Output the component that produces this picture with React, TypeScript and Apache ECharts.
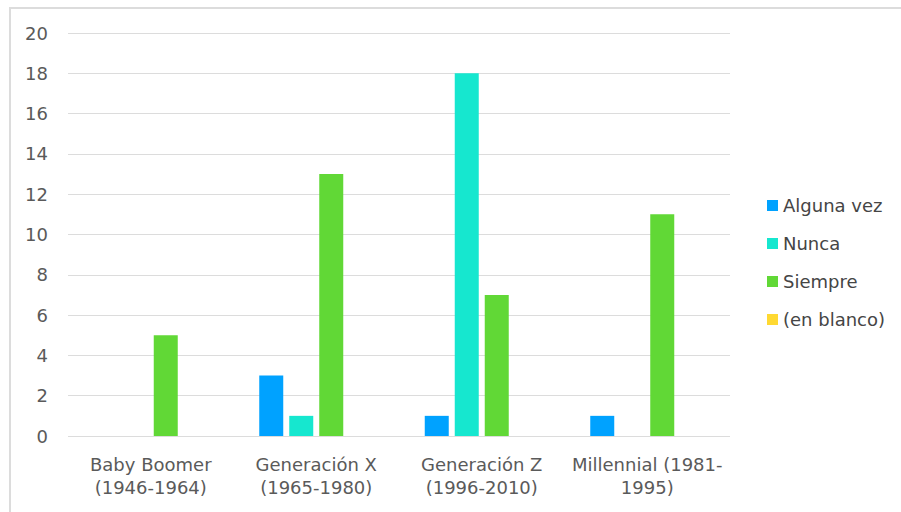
import React, { useEffect, useRef } from "react";
import * as echarts from "echarts";

const categories = [
  "Baby Boomer\n(1946-1964)",
  "Generación X\n(1965-1980)",
  "Generación Z\n(1996-2010)",
  "Millennial (1981-\n1995)",
];
const seriesNames = ["Alguna vez", "Nunca", "Siempre", "(en blanco)"];
const algunaVez = [null, 3, 1, 1];
const nunca = [null, 1, 18, null];
const siempre = [5, 13, 7, 11];
const enBlanco = [null, null, null, null];
const yTicks = { min: 0, max: 20, interval: 2 };
const colors = ["#00A2FF", "#16E7CF", "#61D836", "#FFD932"];

const FONT = "'DejaVu Sans', Verdana, sans-serif";

export default function App() {
  const ref = useRef<HTMLDivElement>(null);
  useEffect(() => {
    if (!ref.current) return;
    const chart = echarts.init(ref.current, undefined, { renderer: "svg" });
    const values = [algunaVez, nunca, siempre, enBlanco];
    chart.setOption({
      animation: false,
      color: colors,
      textStyle: { fontFamily: FONT },
      graphic: [
        {
          type: "rect",
          shape: { x: 10, y: 8, width: 1000, height: 1000 },
          style: { fill: "none", stroke: "#dcdcdc", lineWidth: 2 },
          silent: true,
        },
      ],
      grid: { left: 68, right: 171, top: 33, bottom: 76, containLabel: false },
      legend: {
        orient: "vertical",
        left: 762,
        top: 190.5,
        itemWidth: 11,
        itemHeight: 11,
        itemGap: 18,
        icon: "rect",
        data: seriesNames,
        textStyle: { fontSize: 18, color: "#454545", fontFamily: FONT, lineHeight: 20 },
      },
      xAxis: {
        type: "category",
        data: categories,
        axisLine: { show: false },
        axisTick: { show: false },
        axisLabel: {
          fontSize: 18,
          color: "#5a5a5a",
          lineHeight: 23,
          margin: 17,
          interval: 0,
          fontFamily: FONT,
        },
      },
      yAxis: {
        type: "value",
        min: yTicks.min,
        max: yTicks.max,
        interval: yTicks.interval,
        axisLine: { show: false },
        axisTick: { show: false },
        splitLine: { lineStyle: { color: "#dcdcdc", width: 1 } },
        axisLabel: { fontSize: 18, color: "#5a5a5a", margin: 20, fontFamily: FONT },
      },
      series: seriesNames.map((name, i) => ({
        name,
        type: "bar",
        data: values[i],
        barWidth: 24,
        barGap: "25%",
        itemStyle: { color: colors[i] },
      })),
    });
    return () => chart.dispose();
  }, []);
  return (
    <div
      ref={ref}
      style={{ position: "absolute", left: 0, top: 0, width: 901, height: 512, background: "#fff" }}
    />
  );
}
